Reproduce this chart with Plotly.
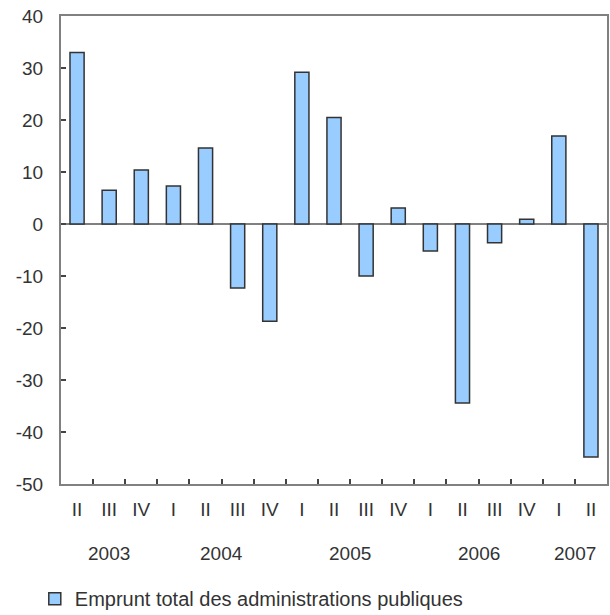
import plotly.graph_objects as go

quarters = ["II", "III", "IV", "I", "II", "III", "IV", "I", "II", "III", "IV",
            "I", "II", "III", "IV", "I", "II"]
values = [33.0, 6.5, 10.4, 7.3, 14.6, -12.3, -18.7, 29.2, 20.5, -10.0, 3.1,
          -5.2, -34.4, -3.6, 0.9, 16.9, -44.8]
years = ["2003", "2004", "2005", "2006", "2007"]
year_pos = [1, 4.5, 8.5, 12.5, 15.5]
y_ticks = [40, 30, 20, 10, 0, -10, -20, -30, -40, -50]
series_name = "Emprunt total des administrations publiques"

x = list(range(len(values)))
font = dict(family="Liberation Sans, Arial, sans-serif", size=19, color="#333333")

fig = go.Figure()
fig.add_trace(go.Bar(
    x=x, y=values, name=series_name, width=0.44,
    marker=dict(color="#99ccff", line=dict(color="#333333", width=1.5)),
    showlegend=True,
))

fig.update_layout(
    width=610, height=615,
    margin=dict(l=61, r=3, t=16, b=131, autoexpand=False),
    plot_bgcolor="white", paper_bgcolor="white",
    font=font,
    xaxis=dict(
        range=[-0.5, len(values) - 0.5],
        tickvals=x, ticktext=quarters, ticks="", ticklabelstandoff=7,
        showline=True, linecolor="#808080", linewidth=2, mirror=True,
        showgrid=False, zeroline=False,
        minor=dict(tickvals=[i + 0.5 for i in range(len(values) - 1)],
                   ticks="inside", ticklen=5, tickcolor="#444", tickwidth=1.5),
    ),
    yaxis=dict(
        range=[-50, 40], tickvals=y_ticks,
        ticktext=[str(v) for v in y_ticks],
        ticks="inside", ticklen=5, tickcolor="#444", tickwidth=1.5,
        showline=True, linecolor="#808080", linewidth=2, mirror=True,
        showgrid=False, zeroline=True, zerolinecolor="#808080", zerolinewidth=2,
        ticklabelstandoff=12,
    ),
    legend=dict(x=-0.048, y=-0.245, xanchor="left", yanchor="middle",
                orientation="h", font=dict(size=20, color="#333333"),
                bgcolor="rgba(0,0,0,0)"),
)

for yr, pos in zip(years, year_pos):
    fig.add_annotation(x=pos, y=-0.149, xref="x", yref="paper", text=yr,
                       showarrow=False, font=font, yanchor="middle")

fig.write_html(
    "out.html",
    config={"displayModeBar": False},
    post_script="document.body.style.margin='0';document.body.style.overflow='hidden';",
)
